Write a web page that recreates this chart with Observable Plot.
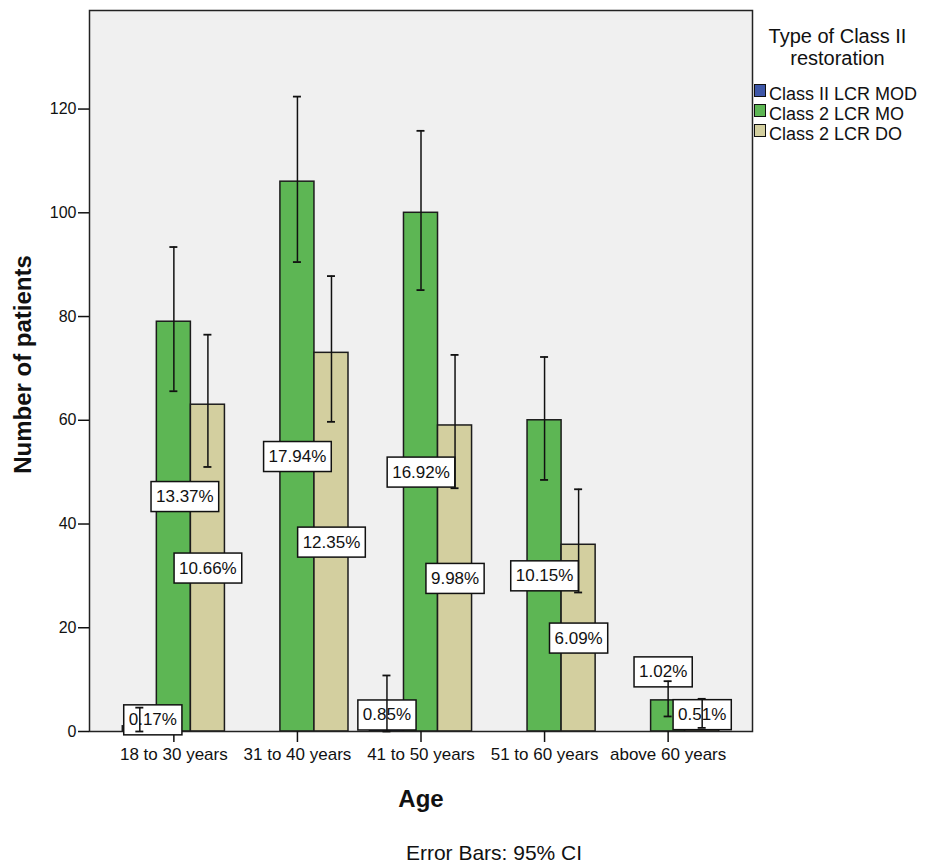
<!DOCTYPE html>
<html>
<head>
<meta charset="utf-8">
<script src="https://cdn.jsdelivr.net/npm/d3@7"></script>
<script src="https://cdn.jsdelivr.net/npm/@observablehq/plot@0.6"></script>
<style>
  body { margin: 0; background: #fff; font-family: "Liberation Sans", Arial, sans-serif; color: #111; }
  #wrap { position: relative; width: 925px; height: 866px; }
  #legend-title { position: absolute; left: 750px; top: 25px; width: 175px; text-align: center; font-size: 20px; line-height: 22px; }
  .legend-row { position: absolute; left: 754px; height: 20px; display: flex; align-items: flex-start; font-size: 18px; line-height: 20px; white-space: nowrap; }
  .legend-row .sw { width: 12px; height: 13px; border: 1px solid #111; box-sizing: border-box; margin-right: 3px; margin-top: 0px; }
  #caption { position: absolute; top: 841px; left: 494px; transform: translateX(-50%); font-size: 21px; line-height: 24px; white-space: nowrap; }
</style>
</head>
<body>
<div id="wrap"></div>
<script>
// Patients by age group and type of Class II restoration (counts, 95% CI)
const ages = ["18 to 30 years", "31 to 40 years", "41 to 50 years", "51 to 60 years", "above 60 years"];
const types = ["Class II LCR MOD", "Class 2 LCR MO", "Class 2 LCR DO"];
const colors = ["#3e57a8", "#5db654", "#d3cf9f"];

const countsMOD = [1, 0, 5, 0, 0];
const countsMO = [79, 106, 100, 60, 6];
const countsDO = [63, 73, 59, 36, 3];

const ciLowMOD = [0, null, 0, null, null];
const ciHighMOD = [4.6, null, 10.8, null, null];
const ciLowMO = [65.6, 90.5, 85.1, 48.5, 2.9];
const ciHighMO = [93.4, 122.4, 115.8, 72.2, 9.7];
const ciLowDO = [51.0, 59.7, 46.9, 26.8, 0.7];
const ciHighDO = [76.5, 87.8, 72.6, 46.7, 6.3];

const yTicks = [0, 20, 40, 60, 80, 100, 120];

// Table built from the arrays above
const counts = [countsMOD, countsMO, countsDO];
const lows = [ciLowMOD, ciLowMO, ciLowDO];
const highs = [ciHighMOD, ciHighMO, ciHighDO];
const total = d3.sum(counts.flat());
const rows = [];
types.forEach((type, t) => {
  ages.forEach((age, a) => {
    rows.push({t, a, type, age, count: counts[t][a], lo: lows[t][a], hi: highs[t][a],
               pct: counts[t][a] / total * 100});
  });
});

// Layout
const W = 925, H = 836, mL = 89, mR = 173, mT = 10, mB = 105;
const padIn = 0.7245, padOut = 0.545;
const step = (W - mL - mR) / (ages.length - padIn + 2 * padOut);
const bw = step * (1 - padIn);
const offset = t => (t - 1) * bw;
const capInset = (bw - 8) / 2;

// Label nudges where boxes would collide or sit below the baseline: [series-age] -> [dx, dy]
const labelNudge = {
  "0-0": [13, -9], "0-2": [0, -3.5],
  "1-0": [11, -30], "1-4": [-5, -44],
  "2-4": [0, -9]
};

const marks = [Plot.frame({fill: "#f0f0f0", stroke: null})];

types.forEach((type, t) => {
  marks.push(Plot.barY(rows.filter(d => d.t === t && d.count > 0), {
    x: "age", y: "count", dx: offset(t), fill: colors[t], stroke: "#1c1c1c", strokeWidth: 1.5
  }));
});

marks.push(Plot.frame({stroke: "#222", strokeWidth: 1.5}));
marks.push(Plot.axisY({ticks: yTicks, tickSize: 11, tickPadding: 2, fontSize: 16, strokeWidth: 1.5, label: null}));
marks.push(Plot.axisX({tickSize: 11, tickPadding: 5, fontSize: 17, strokeWidth: 1.5, label: null}));

// Percentage labels
rows.filter(d => d.count > 0).forEach(d => {
  const [nx, ny] = labelNudge[`${d.t}-${d.a}`] || [0, 0];
  marks.push(Plot.text([d], {
    x: "age", y: r => r.count / 2, text: r => r.pct.toFixed(2) + "%",
    dx: offset(d.t) + nx, dy: ny, fontSize: 17, fill: "#111"
  }));
});

// 95% CI error bars
types.forEach((type, t) => {
  const ci = rows.filter(d => d.t === t && d.count > 0 && d.hi != null);
  marks.push(Plot.ruleX(ci, {x: "age", y1: "lo", y2: "hi", dx: offset(t), stroke: "#111", strokeWidth: 1.5}));
  marks.push(Plot.tickY(ci, {x: "age", y: "lo", dx: offset(t), insetLeft: capInset, insetRight: capInset, stroke: "#111", strokeWidth: 1.8}));
  marks.push(Plot.tickY(ci, {x: "age", y: "hi", dx: offset(t), insetLeft: capInset, insetRight: capInset, stroke: "#111", strokeWidth: 1.8}));
});

// Axis titles
marks.push(Plot.text(["Age"], {text: d => d, frameAnchor: "bottom", dy: 68, textAnchor: "middle", lineAnchor: "middle", fontSize: 24, fontWeight: "bold", fill: "#111"}));
marks.push(Plot.text(["Number of patients"], {text: d => d, frameAnchor: "left", dx: -66, dy: -6.5, rotate: -90, textAnchor: "middle", lineAnchor: "middle", fontSize: 24, fontWeight: "bold", fill: "#111"}));

const chart = Plot.plot({
  width: W, height: H,
  marginLeft: mL, marginRight: mR, marginTop: mT, marginBottom: mB,
  style: {fontFamily: "Liberation Sans, Arial, sans-serif", fontSize: "16px", background: "white", color: "#111", overflow: "visible"},
  x: {type: "band", domain: ages, paddingInner: padIn, paddingOuter: padOut, align: 0.5, round: false},
  y: {domain: [0, 139]},
  marks
});

const wrap = document.getElementById("wrap");
wrap.appendChild(chart);

// White boxes behind the percentage labels
const svgNS = "http://www.w3.org/2000/svg";
Array.from(chart.querySelectorAll("text"))
  .filter(txt => /^\d+\.\d\d%$/.test(txt.textContent.trim()))
  .forEach(txt => {
    const b = txt.getBBox();
    const r = document.createElementNS(svgNS, "rect");
    r.setAttribute("x", b.x - 5);
    r.setAttribute("y", b.y - 5.5);
    r.setAttribute("width", b.width + 10);
    r.setAttribute("height", b.height + 11);
    r.setAttribute("fill", "white");
    r.setAttribute("stroke", "#111");
    r.setAttribute("stroke-width", 1.5);
    const tr = txt.getAttribute("transform");
    if (tr) r.setAttribute("transform", tr);
    txt.parentNode.insertBefore(r, txt);
  });

// Legend
const lt = document.createElement("div");
lt.id = "legend-title";
lt.innerHTML = "Type of Class II<br>restoration";
wrap.appendChild(lt);
types.forEach((type, t) => {
  const row = document.createElement("div");
  row.className = "legend-row";
  row.style.top = (84 + t * 20) + "px";
  const sw = document.createElement("div");
  sw.className = "sw";
  sw.style.background = colors[t];
  const label = document.createElement("span");
  label.textContent = type;
  row.appendChild(sw);
  row.appendChild(label);
  wrap.appendChild(row);
});

const cap = document.createElement("div");
cap.id = "caption";
cap.textContent = "Error Bars: 95% CI";
wrap.appendChild(cap);
</script>
</body>
</html>
